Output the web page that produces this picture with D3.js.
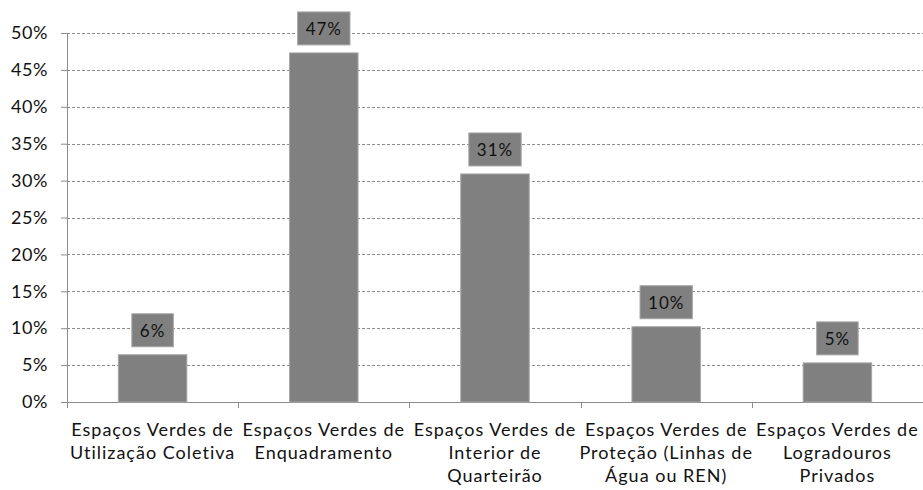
<!DOCTYPE html>
<html>
<head>
<meta charset="utf-8">
<script src="https://cdn.jsdelivr.net/npm/d3@7"></script>
<style>
  body { margin: 0; background: #fff; }
  text { font-family: Lato, "Open Sans", sans-serif; fill: #111; }
</style>
</head>
<body>
<div id="chart"></div>
<script>
// data
var categories = [
  ["Espaços Verdes de", "Utilização Coletiva"],
  ["Espaços Verdes de", "Enquadramento"],
  ["Espaços Verdes de", "Interior de", "Quarteirão"],
  ["Espaços Verdes de", "Proteção (Linhas de", "Água ou REN)"],
  ["Espaços Verdes de", "Logradouros", "Privados"]
];
var values = [6.4, 47.3, 30.9, 10.2, 5.3];
var valueLabels = ["6%", "47%", "31%", "10%", "5%"];
var yTicks = [0, 5, 10, 15, 20, 25, 30, 35, 40, 45, 50];

var W = 923, H = 490;
var margin = {top: 33, right: 0, bottom: 88, left: 67};
var width = W - margin.left - margin.right,
    height = H - margin.top - margin.bottom;

var svg = d3.select("#chart").append("svg")
  .attr("width", W).attr("height", H)
  .append("g")
  .attr("transform", "translate(" + margin.left + "," + margin.top + ")");

var idx = d3.range(categories.length);

var x = d3.scaleBand()
  .domain(idx)
  .range([0, width])
  .paddingInner(0.6)
  .paddingOuter(0.3);

var y = d3.scaleLinear()
  .domain([0, 50])
  .range([height, 0]);

// gridlines
svg.append("g")
  .selectAll("line")
  .data(yTicks.filter(function(d){ return d > 0; }))
  .join("line")
    .attr("x1", 0).attr("x2", width)
    .attr("y1", function(d){ return Math.round(y(d)) + 0.5; })
    .attr("y2", function(d){ return Math.round(y(d)) + 0.5; })
    .attr("stroke", "#8c8c8c")
    .attr("stroke-dasharray", "3,2");

// y axis
var yAxis = svg.append("g")
  .call(d3.axisLeft(y).tickValues(yTicks).tickSize(6).tickPadding(13)
        .tickFormat(function(d){ return d + "%"; }));
yAxis.selectAll("line").attr("stroke", "#8c8c8c");
yAxis.select(".domain").attr("stroke", "#8c8c8c").attr("d", "M0.5," + height + "V0");
yAxis.selectAll("text")
  .style("font-size", "18px")
  .style("letter-spacing", "0.6px")
  .style("font-family", "Lato, sans-serif")
  .attr("fill", "#111");

// x axis line and boundary ticks
var step = x.step();
svg.append("line")
  .attr("x1", 0).attr("x2", width)
  .attr("y1", height + 0.5).attr("y2", height + 0.5)
  .attr("stroke", "#8c8c8c");
svg.append("g")
  .selectAll("line")
  .data(d3.range(categories.length))
  .join("line")
    .attr("x1", function(d){ return Math.round(x(d) - step * 0.3) + 0.5; })
    .attr("x2", function(d){ return Math.round(x(d) - step * 0.3) + 0.5; })
    .attr("y1", height).attr("y2", height + 6)
    .attr("stroke", "#8c8c8c");

// bars
svg.append("g")
  .selectAll("rect")
  .data(idx)
  .join("rect")
    .attr("x", function(d){ return x(d); })
    .attr("y", function(d){ return y(values[d]); })
    .attr("width", x.bandwidth())
    .attr("height", function(d){ return height - y(values[d]); })
    .attr("fill", "#808080")
    .attr("stroke", "#a6a6a6")
    .attr("stroke-width", 1);

// value labels in gray boxes
var lab = svg.append("g")
  .selectAll("g")
  .data(idx)
  .join("g")
    .attr("transform", function(d){
      return "translate(" + (x(d) + x.bandwidth() / 2) + "," + (y(values[d]) - 8) + ")";
    });
lab.append("text")
  .attr("text-anchor", "middle")
  .attr("y", -10)
  .style("font-size", "17px")
  .style("letter-spacing", "1px")
  .text(function(d){ return valueLabels[d]; });
lab.each(function(){
  var g = d3.select(this);
  var bb = g.select("text").node().getBBox();
  var w = bb.width + 16;
  g.insert("rect", "text")
    .attr("x", -w / 2).attr("y", -33)
    .attr("width", w).attr("height", 33)
    .attr("fill", "#808080")
    .attr("stroke", "#a6a6a6");
});

// category labels
var cat = svg.append("g")
  .selectAll("text")
  .data(idx)
  .join("text")
    .attr("text-anchor", "middle")
    .attr("x", function(d){ return x(d) + x.bandwidth() / 2; })
    .attr("y", height + 34)
    .style("font-size", "18px")
    .style("letter-spacing", "1px");
cat.selectAll("tspan")
  .data(function(d){ return categories[d]; })
  .join("tspan")
    .attr("x", function(){ return d3.select(this.parentNode).attr("x"); })
    .attr("dy", function(d, i){ return i === 0 ? 0 : 23; })
    .text(function(d){ return d; });
</script>
</body>
</html>
